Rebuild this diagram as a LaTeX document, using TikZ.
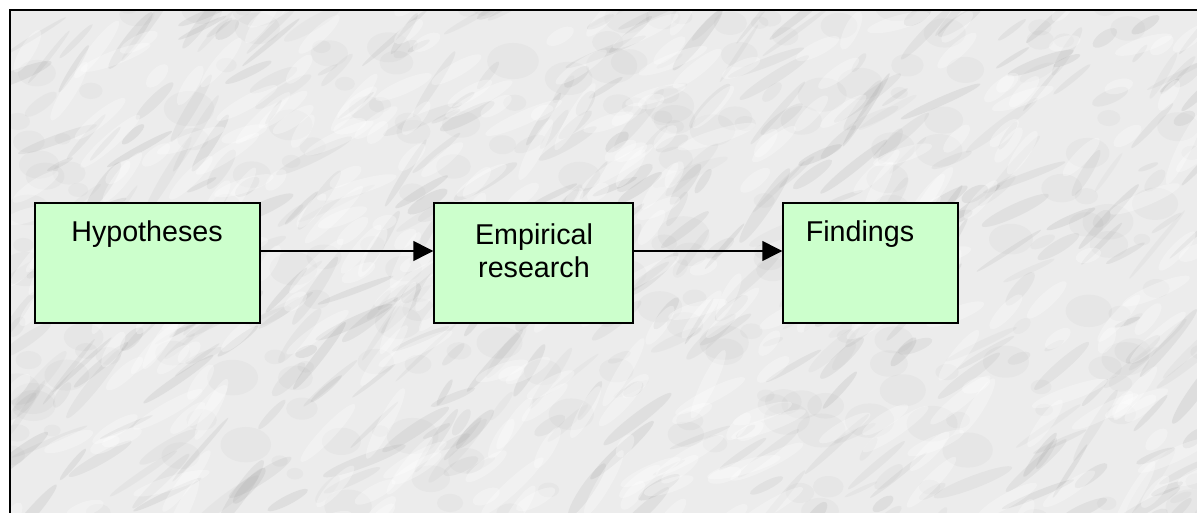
\documentclass[tikz,border=0pt]{standalone}
\usepackage{fontspec}
\setmainfont{Liberation Sans}
\usetikzlibrary{arrows.meta}
\definecolor{marble}{HTML}{ECECEC}
\definecolor{vein}{HTML}{8A8A8A}
\definecolor{boxgreen}{HTML}{CCFFCC}
\tikzset{
  stagebox/.style={draw=black, line width=1.1pt, fill=boxgreen, inner sep=0pt,
    minimum width=#1, minimum height=90pt},
  stagetext/.style={font=\fontsize{21.5}{24.75}\selectfont, align=center, inner sep=0pt},
  flow/.style={line width=1.1pt, -{Triangle[length=15pt,width=15pt]}}
}
\begin{document}
\begin{tikzpicture}[x=0.75pt, y=-0.75pt]
\useasboundingbox (0,0) rectangle (1197,513);
% marble panel
\fill[white] (0,0) rectangle (1197,513);
\fill[marble] (10,10) rectangle (1197,513);
\begin{scope}
  \clip (10,10) rectangle (1197,513);
  \pgfmathsetseed{11}
  % soft grey clouds
  \foreach \i in {1,...,220}{
    \pgfmathsetmacro\vx{10+rnd*1200}
    \pgfmathsetmacro\vy{5+rnd*515}
    \pgfmathsetmacro\vr{8+rnd*18}
    \fill[vein, opacity=0.06] (\vx,\vy) ellipse [x radius=\vr, y radius=0.7*\vr];
  }
  % diagonal veins
  \foreach \i in {1,...,420}{
    \pgfmathsetmacro\vx{10+rnd*1200}
    \pgfmathsetmacro\vy{5+rnd*515}
    \pgfmathsetmacro\va{20+rnd*40}
    \pgfmathsetmacro\vl{10+rnd*35}
    \pgfmathsetmacro\vw{2+rnd*5}
    \pgfmathsetmacro\vo{0.05+rnd*0.10}
    \fill[vein, opacity=\vo, rotate around={\va:(\vx,\vy)}]
      (\vx,\vy) ellipse [x radius=\vl, y radius=\vw];
  }
  % white highlights
  \foreach \i in {1,...,300}{
    \pgfmathsetmacro\vx{10+rnd*1200}
    \pgfmathsetmacro\vy{5+rnd*515}
    \pgfmathsetmacro\va{15+rnd*50}
    \pgfmathsetmacro\vl{12+rnd*30}
    \fill[white, opacity=0.3, rotate around={\va:(\vx,\vy)}]
      (\vx,\vy) ellipse [x radius=\vl, y radius=7];
  }
\end{scope}
\draw[line width=1.2pt] (10,513) -- (10,10) -- (1197,10);

% stages
\node[stagebox=168.75pt] (hyp) at (147.5,263) {};
\node[stagebox=149.25pt] (emp) at (533.5,263) {};
\node[stagebox=131.25pt] (fin) at (870.5,263) {};

\node[stagetext, anchor=base] (hypt) at (147,242) {Hypotheses};
\node[stagetext, anchor=north] (empt) at (534,223) {Empirical\\research};
\node[stagetext, anchor=base] (fint) at (860,242) {Findings};

% flow
\draw[flow] (hyp.east |- 0,251) -- (emp.west |- 0,251);
\draw[flow] (emp.east |- 0,251) -- (fin.west |- 0,251);
\end{tikzpicture}
\end{document}
